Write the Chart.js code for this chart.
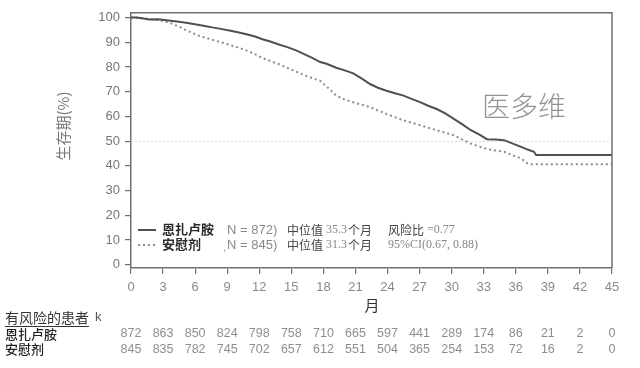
<!DOCTYPE html>
<html>
<head>
<meta charset="utf-8">
<script src="https://cdn.jsdelivr.net/npm/chart.js@4"></script>
<style>
html,body{margin:0;padding:0;background:#fff;}
#wrap{width:640px;height:368px;position:relative;}
</style>
</head>
<body>
<div id="wrap"><canvas id="c" width="640" height="368"></canvas></div>
<script>
// ---- data ----
const enzaMonths = [0,0.5,1,1.7,2.6,3.5,4.5,5.3,6.1,6.9,7.6,8.4,9.2,10,10.8,11.6,12.3,13.1,13.9,14.7,15.5,16.2,17,17.7,18.3,19.2,20,20.8,21.6,22.4,23.1,23.9,24.7,25.5,26.3,27.1,27.8,28.6,29.4,30.2,31,31.8,32.6,33.3,34.1,34.9,35.6,36.5,37.1,37.7,37.9,45];
const enzaSurvival = [100,100,99.7,99.2,99.3,98.8,98.3,97.8,97.2,96.6,96,95.4,94.7,94,93.2,92.3,91.2,90.2,89,87.9,86.6,85.2,83.6,82,81.3,79.7,78.6,77.4,75.3,73,71.6,70.4,69.4,68.4,67,65.7,64.3,63,61.2,59,56.8,54.4,52.6,50.8,50.7,50.4,49.2,47.7,46.6,45.7,44.4,44.4];
const placeboMonths = [0,1,2,3,3.6,4.5,5.3,6.1,6.9,7.6,8.4,9.2,10,10.8,11.6,12.3,13.1,13.9,14.7,15.5,16.2,17,17.7,18.1,18.6,19.2,20,20.8,21.6,22.4,23.1,23.9,24.7,25.5,26.3,27.1,27.8,28.6,29.4,30.2,31,31.8,32.6,33.3,34.1,34.9,35.7,36.5,37.1,37.3,45];
const placeboSurvival = [100,99.8,99.3,98.6,97.9,96.3,94.6,93,91.9,91,90,89,87.9,86.7,85.2,83.6,82.3,81,79.5,78,76.7,75.4,74.4,72.8,71,68.4,66.8,65.7,64.7,63.7,62.4,61,59.7,58.4,57.4,56.4,55.4,54.4,53.4,52.4,50.6,49,47.8,46.8,46.2,45.7,44.3,43,41,40.7,40.7];
const xTickValues = [0,3,6,9,12,15,18,21,24,27,30,33,36,39,42,45];
const yTickValues = [0,10,20,30,40,50,60,70,80,90,100];
const riskMonths = [0,3,6,9,12,15,18,21,24,27,30,33,36,39,42,45];
const riskEnza = [872,863,850,824,798,758,710,665,597,441,289,174,86,21,2,0];
const riskPlacebo = [845,835,782,745,702,657,612,551,504,365,254,153,72,16,2,0];
const seriesNames = ['恩扎卢胺','安慰剂'];
const seriesN = ['N = 872)','N = 845)'];
const medians = ['35.3','31.3'];
const statsText = ['=0.77','95%CI(0.67, 0.88)'];

const SANS = "'Liberation Sans', Arial, sans-serif";
const CJK = "'Noto Sans CJK SC', sans-serif";
const SERIF = "'Liberation Serif', serif";
const AXIS = '#707070';

const extras = {
  id: 'extras',
  beforeDatasetsDraw(chart) {
    const ctx = chart.ctx, a = chart.chartArea, y = chart.scales.y;
    const y50 = y.getPixelForValue(50);
    ctx.save();
    ctx.strokeStyle = '#dcdcdc';
    ctx.lineWidth = 1;
    ctx.setLineDash([2, 2]);
    ctx.beginPath();
    ctx.moveTo(a.left, Math.round(y50) + 0.5);
    ctx.lineTo(a.right, Math.round(y50) + 0.5);
    ctx.stroke();
    ctx.restore();
  },
  afterDraw(chart) {
    const ctx = chart.ctx, a = chart.chartArea, x = chart.scales.x;
    ctx.save();
    // top/right frame
    ctx.strokeStyle = AXIS;
    ctx.lineWidth = 1.5;
    ctx.beginPath();
    ctx.moveTo(a.left, a.top);
    ctx.lineTo(a.right, a.top);
    ctx.lineTo(a.right, a.bottom);
    ctx.stroke();

    // y title
    ctx.save();
    ctx.translate(63, 126);
    ctx.rotate(-Math.PI / 2);
    ctx.fillStyle = '#777';
    ctx.font = "15px " + CJK;
    ctx.textAlign = 'center';
    ctx.textBaseline = 'middle';
    ctx.fillText('生存期(%)', 0, 0);
    ctx.restore();

    // x title
    ctx.fillStyle = '#333';
    ctx.font = "15px " + CJK;
    ctx.textAlign = 'center';
    ctx.textBaseline = 'middle';
    ctx.fillText('月', 372, 305);

    // watermark
    ctx.fillStyle = '#939393';
    ctx.font = "300 28px " + CJK;
    ctx.textAlign = 'left';
    ctx.fillText('医多维', 482, 106);

    // legend
    const ds = chart.data.datasets;
    const rows = [230, 245];
    ds.forEach((d, i) => {
      const yy = rows[i];
      ctx.save();
      ctx.strokeStyle = d.borderColor;
      ctx.lineWidth = d.borderWidth;
      ctx.setLineDash(d.borderDash || []);
      ctx.beginPath();
      ctx.moveTo(138, yy);
      ctx.lineTo(156, yy);
      ctx.stroke();
      ctx.restore();
      ctx.textAlign = 'left';
      ctx.textBaseline = 'middle';
      ctx.fillStyle = '#2a2a2a';
      ctx.font = "bold 13px " + CJK;
      ctx.fillText(seriesNames[i], 162, yy - 1);
      ctx.fillStyle = '#8a8a8a';
      ctx.font = "13px " + SANS;
      ctx.fillText(seriesN[i], 227, yy);
      ctx.fillStyle = '#444';
      ctx.font = "12px " + CJK;
      ctx.fillText('中位值', 287, yy);
      ctx.fillStyle = '#888';
      ctx.font = "12px " + SERIF;
      ctx.fillText(medians[i], 326, yy);
      ctx.fillStyle = '#444';
      ctx.font = "12px " + CJK;
      ctx.fillText('个月', 348, yy);
    });
    ctx.fillStyle = '#aaa';
    ctx.font = "12px " + SANS;
    ctx.fillText(',', 223, rows[1] + 3);
    ctx.fillStyle = '#444';
    ctx.font = "12px " + CJK;
    ctx.fillText('风险比', 388, rows[0]);
    ctx.fillStyle = '#888';
    ctx.font = "12px " + SERIF;
    ctx.fillText(statsText[0], 427, rows[0]);
    ctx.fillText(statsText[1], 388, rows[1]);

    // risk table
    ctx.fillStyle = '#333';
    ctx.font = "14px " + CJK;
    ctx.textAlign = 'left';
    ctx.fillText('有风险的患者', 5, 318);
    const w = ctx.measureText('有风险的患者').width;
    ctx.fillRect(5, 326, w, 1);
    ctx.fillStyle = '#555';
    ctx.font = "13px " + SANS;
    ctx.fillText('k', 95, 317);
    ctx.fillStyle = '#222';
    ctx.font = "500 13px " + CJK;
    ctx.fillText(seriesNames[0], 5, 334);
    ctx.fillText(seriesNames[1], 5, 349);
    ctx.fillStyle = '#8e8e8e';
    ctx.font = "12.5px " + SANS;
    ctx.textAlign = 'center';
    riskMonths.forEach((m, i) => {
      const px = x.getPixelForValue(m);
      ctx.fillText(String(riskEnza[i]), px, 334);
      ctx.fillText(String(riskPlacebo[i]), px, 350);
    });
    ctx.restore();
  }
};

new Chart(document.getElementById('c'), {
  type: 'line',
  data: {
    datasets: [
      {
        label: seriesNames[0],
        data: enzaMonths.map((m, i) => ({ x: m, y: enzaSurvival[i] })),
        borderColor: '#505050',
        borderWidth: 2,
        pointRadius: 0,
        tension: 0,
        fill: false
      },
      {
        label: seriesNames[1],
        data: placeboMonths.map((m, i) => ({ x: m, y: placeboSurvival[i] })),
        borderColor: '#8c8c8c',
        borderWidth: 2,
        borderDash: [2, 3],
        pointRadius: 0,
        tension: 0,
        fill: false
      }
    ]
  },
  options: {
    responsive: false,
    animation: false,
    layout: { padding: { left: 0, right: 28, top: 10, bottom: 70 } },
    plugins: { legend: { display: false }, tooltip: { enabled: false } },
    scales: {
      x: {
        type: 'linear',
        min: 0,
        max: 45,
        afterBuildTicks: s => { s.ticks = xTickValues.map(v => ({ value: v })); },
        afterFit: s => { s.height = 30; },
        ticks: { color: '#8a8a8a', font: { family: SANS, size: 13 }, padding: 6, maxRotation: 0, autoSkip: false },
        grid: { drawOnChartArea: false, drawTicks: true, tickLength: 6, color: AXIS, lineWidth: 1.2 },
        border: { display: true, color: AXIS, width: 1.5 }
      },
      y: {
        type: 'linear',
        min: -1.3,
        max: 101.9,
        afterBuildTicks: s => { s.ticks = yTickValues.map(v => ({ value: v })); },
        afterFit: s => { s.width = 131; },
        ticks: { color: '#777', font: { family: SANS, size: 13 }, padding: 5, autoSkip: false },
        grid: { drawOnChartArea: false, drawTicks: true, tickLength: 6, color: AXIS, lineWidth: 1.2 },
        border: { display: true, color: AXIS, width: 1.5 }
      }
    }
  },
  plugins: [extras]
});
</script>
</body>
</html>
